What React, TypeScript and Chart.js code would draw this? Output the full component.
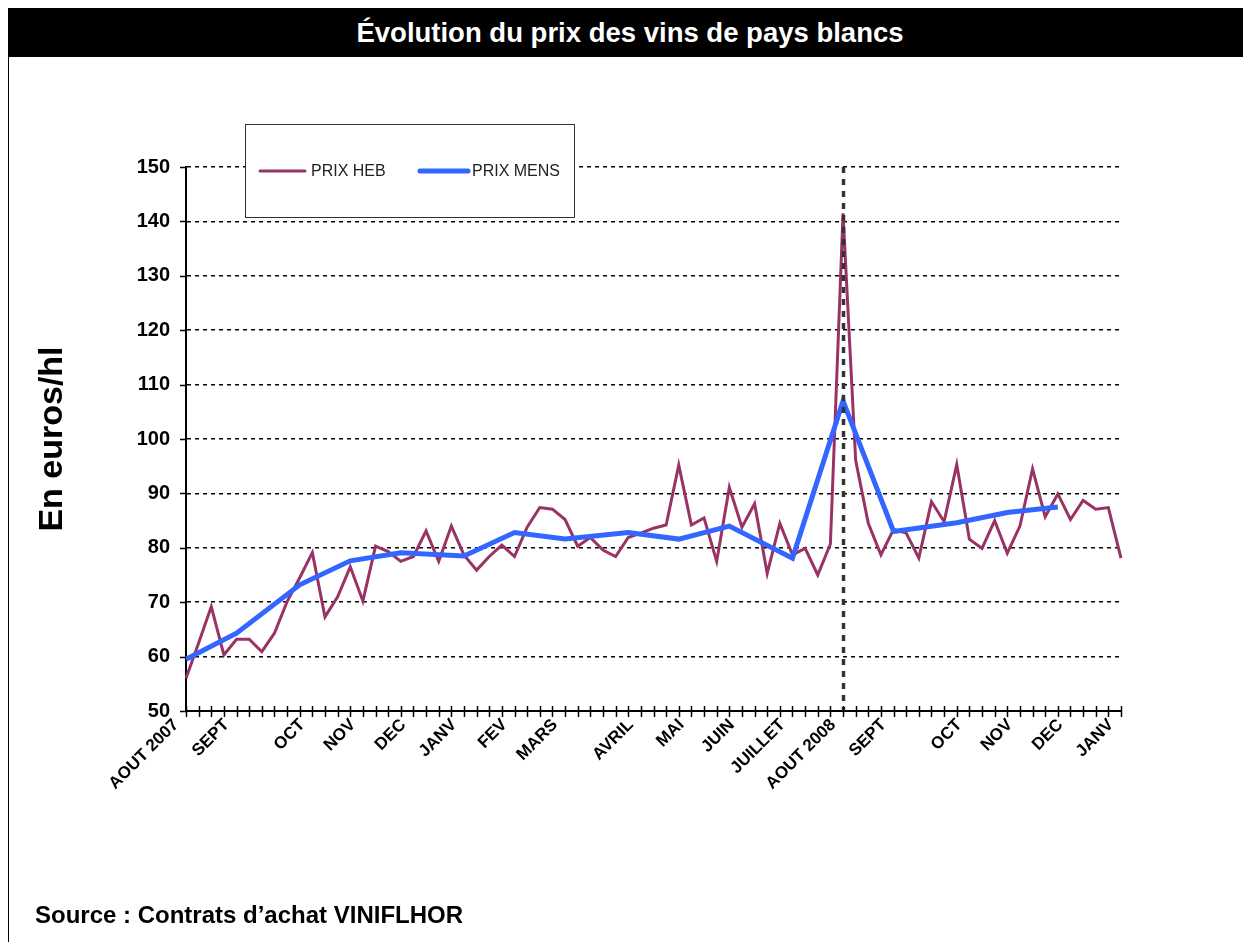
import React, { useEffect, useRef } from 'react';
import { Chart, registerables } from 'chart.js';

Chart.register(...registerables);

const FONT = '"Liberation Sans", Arial, sans-serif';

// Month labels on the weekly category axis, and the week index where each one sits
const MONTH_LABELS = ['AOUT 2007', 'SEPT', 'OCT', 'NOV', 'DEC', 'JANV', 'FEV', 'MARS', 'AVRIL', 'MAI', 'JUIN', 'JUILLET', 'AOUT 2008', 'SEPT', 'OCT', 'NOV', 'DEC', 'JANV'];
const MONTH_WEEK = [0, 4, 10, 14, 18, 22, 26, 30, 36, 40, 44, 48, 52, 56, 62, 66, 70, 74];

// Weekly price (PRIX HEB), euros/hl
const PRIX_HEB = [
  56.0, 62.5, 69.2, 60.3, 63.2, 63.2, 60.9, 64.3, 70.1, 74.5,
  79.1, 67.3, 71.0, 76.5, 70.2, 80.3, 79.3, 77.5, 78.4, 83.1,
  77.5, 84.0, 78.7, 75.9, 78.4, 80.5, 78.4, 83.8, 87.4, 87.1,
  85.2, 80.3, 81.9, 79.6, 78.4, 81.9, 82.7, 83.6, 84.2, 95.2,
  84.2, 85.5, 77.5, 91.1, 83.8, 88.1, 75.3, 84.5, 78.7, 79.9,
  75.0, 80.7, 141.5, 96.1, 84.5, 78.7, 83.4, 82.7, 78.1, 88.5,
  84.8, 95.3, 81.6, 79.9, 85.0, 79.0, 84.0, 94.5, 85.7, 89.9,
  85.2, 88.7, 87.1, 87.4, 78.1,
];

// Monthly price (PRIX MENS): week index and value
const MENS_WEEK = [0, 4, 9, 13, 17, 22, 26, 30, 35, 39, 43, 48, 52, 56, 61, 65, 69];
const PRIX_MENS = [59.5, 64.3, 73.2, 77.6, 79.1, 78.5, 82.8, 81.6, 82.8, 81.6, 84.0, 78.1, 107.0, 83.0, 84.6, 86.5, 87.5];

// Y axis
const Y_MIN = 50;
const Y_MAX = 150;
const Y_STEP = 10;

// Week marked by the vertical dashed line
const MARK_WEEK = 52;

const SERIES_NAMES = ['PRIX HEB', 'PRIX MENS'];
const HEB_COLOR = '#993366';
const MENS_COLOR = '#3366FF';

const weekLabels = PRIX_HEB.map((_, i) => {
  const k = MONTH_WEEK.indexOf(i);
  return k >= 0 ? MONTH_LABELS[k] : '';
});
const mensSeries: (number | null)[] = PRIX_HEB.map(() => null);
MENS_WEEK.forEach((w, k) => {
  mensSeries[w] = PRIX_MENS[k];
});

const marksPlugin = {
  id: 'marks',
  afterDatasetsDraw(chart: any) {
    const { ctx, chartArea, scales } = chart;
    const x = Math.round(scales.x.getPixelForValue(MARK_WEEK)) + 0.5;
    ctx.save();
    ctx.strokeStyle = '#333333';
    ctx.lineWidth = 3.5;
    ctx.setLineDash([6, 6]);
    ctx.beginPath();
    ctx.moveTo(x, chartArea.top);
    ctx.lineTo(x, chartArea.bottom);
    ctx.stroke();
    ctx.restore();
  },
  afterDraw(chart: any) {
    const { ctx, chartArea, scales } = chart;
    ctx.save();
    ctx.strokeStyle = '#000';
    ctx.lineWidth = 1.5;
    ctx.beginPath();
    for (let i = 0; i < weekLabels.length; i++) {
      const x = Math.round(scales.x.getPixelForValue(i)) + 0.5;
      ctx.moveTo(x, chartArea.bottom - 5);
      ctx.lineTo(x, chartArea.bottom + 6);
    }
    for (let v = Y_MIN; v <= Y_MAX; v += Y_STEP) {
      const y = Math.round(scales.y.getPixelForValue(v)) + 0.5;
      ctx.moveTo(chartArea.left - 6, y);
      ctx.lineTo(chartArea.left, y);
    }
    ctx.stroke();

    // boxed legend
    const x0 = Math.round(chartArea.left) + 59;
    const y0 = Math.round(chartArea.top) - 43;
    const w = 329;
    const h = 93;
    ctx.fillStyle = '#fff';
    ctx.fillRect(x0, y0, w, h);
    ctx.strokeStyle = '#333';
    ctx.lineWidth = 1;
    ctx.strokeRect(x0 + 0.5, y0 + 0.5, w, h);
    const cy = y0 + 47;
    const entries = [
      { sx: 15, ex: 60, tx: 66 },
      { sx: 175, ex: 223, tx: 227 },
    ];
    chart.data.datasets.forEach((ds: any, i: number) => {
      const e = entries[i];
      ctx.strokeStyle = ds.borderColor;
      ctx.lineWidth = ds.borderWidth;
      ctx.lineCap = 'round';
      ctx.beginPath();
      ctx.moveTo(x0 + e.sx, cy);
      ctx.lineTo(x0 + e.ex, cy);
      ctx.stroke();
      ctx.fillStyle = '#222';
      ctx.font = `16px ${FONT}`;
      ctx.textBaseline = 'middle';
      ctx.textAlign = 'left';
      ctx.fillText(ds.label, x0 + e.tx, cy + 1);
    });
    ctx.restore();
  },
};

export default function App() {
  const ref = useRef<HTMLCanvasElement>(null);

  useEffect(() => {
    if (!ref.current) return;
    const chart = new Chart(ref.current, {
      type: 'line',
      data: {
        labels: weekLabels,
        datasets: [
          {
            label: SERIES_NAMES[0],
            data: PRIX_HEB,
            borderColor: HEB_COLOR,
            backgroundColor: HEB_COLOR,
            borderWidth: 3,
            pointRadius: 0,
            tension: 0,
            order: 2,
          },
          {
            label: SERIES_NAMES[1],
            data: mensSeries,
            borderColor: MENS_COLOR,
            backgroundColor: MENS_COLOR,
            borderWidth: 5,
            pointRadius: 0,
            tension: 0,
            spanGaps: true,
            order: 1,
          },
        ],
      },
      options: {
        responsive: false,
        animation: false,
        devicePixelRatio: 1,
        layout: { padding: { left: 0, right: 130, top: 109, bottom: 100 } },
        plugins: {
          legend: { display: false },
          tooltip: { enabled: false },
          title: { display: false },
        },
        scales: {
          x: {
            type: 'category',
            offset: false,
            grid: { display: false, drawTicks: false },
            border: { display: true, color: '#000', width: 2 },
            ticks: {
              autoSkip: false,
              maxRotation: 45,
              minRotation: 45,
              padding: 4,
              labelOffset: -10,
              color: '#000',
              font: { family: FONT, size: 17, weight: 'bold' },
            },
            afterFit: (s: any) => {
              s.height = 131;
            },
          },
          y: {
            min: Y_MIN,
            max: Y_MAX,
            ticks: {
              stepSize: Y_STEP,
              padding: 16,
              color: '#000',
              font: { family: FONT, size: 20, weight: 'bold' },
            },
            grid: { color: '#000', lineWidth: 1.5, drawTicks: false },
            border: { display: true, color: '#000', width: 2, dash: [4, 4] },
            title: {
              display: true,
              text: 'En euros/hl',
              color: '#000',
              font: { family: FONT, size: 34, weight: 'bold' },
              padding: { top: 23, bottom: 0 },
            },
            afterFit: (s: any) => {
              s.width = 177;
            },
          },
        },
      },
      plugins: [marksPlugin],
    } as any);
    return () => chart.destroy();
  }, []);

  return (
    <div
      style={{
        position: 'relative',
        width: 1243,
        height: 934,
        boxSizing: 'border-box',
        borderLeft: '1px solid #000',
        borderTop: '1px solid #000',
        overflow: 'hidden',
        fontFamily: FONT,
        background: '#fff',
      }}
    >
      <div
        style={{
          position: 'absolute',
          left: 0,
          top: 0,
          width: 1242,
          height: 48,
          background: '#000',
          color: '#fff',
          fontWeight: 'bold',
          fontSize: 27.5,
          lineHeight: '48px',
          textAlign: 'center',
        }}
      >
        Évolution du prix des vins de pays blancs
      </div>
      <canvas
        ref={ref}
        width={1242}
        height={884}
        style={{ position: 'absolute', left: 0, top: 49, display: 'block' }}
      />
      <div
        style={{
          position: 'absolute',
          left: 26,
          top: 892,
          fontWeight: 'bold',
          fontSize: 24,
          lineHeight: '28px',
          color: '#000',
          whiteSpace: 'nowrap',
        }}
      >
        Source : Contrats d’achat VINIFLHOR
      </div>
    </div>
  );
}
